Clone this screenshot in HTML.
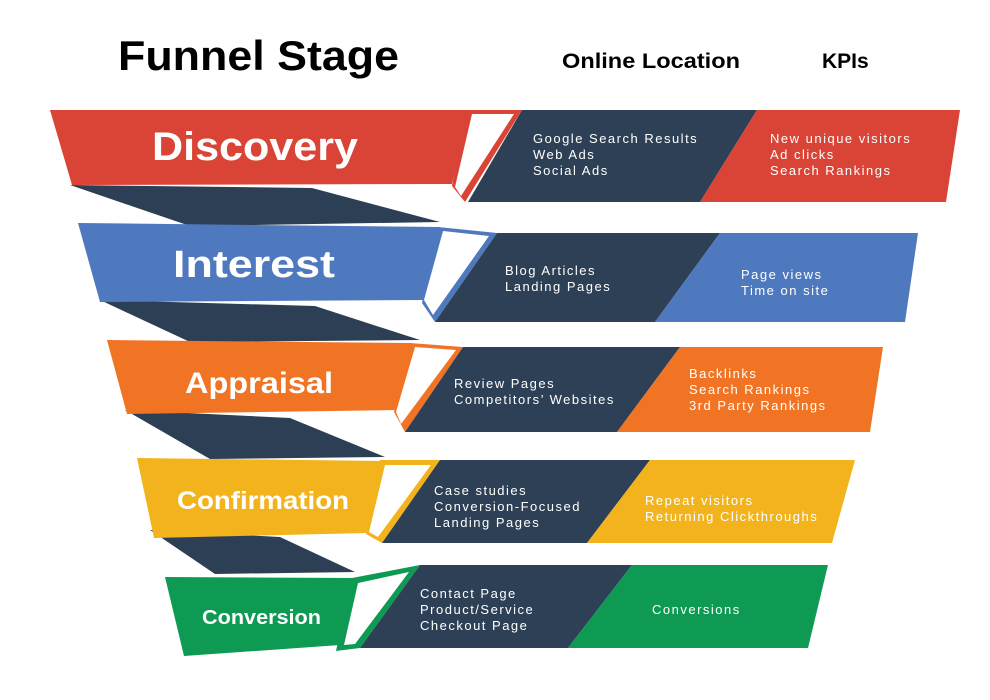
<!DOCTYPE html>
<html><head><meta charset="utf-8"><style>
html,body{margin:0;padding:0;background:#fff;}
svg{display:block;}
text{font-family:"Liberation Sans",sans-serif;}
.h{font-weight:bold;fill:#fff;}
.s{fill:#fff;font-size:13px;letter-spacing:1.5px;}
</style></head><body>
<svg width="990" height="700" viewBox="0 0 990 700" xmlns="http://www.w3.org/2000/svg">
<rect width="990" height="700" fill="#fff"/>
<text x="118" y="70" font-size="42" font-weight="bold" fill="#000" textLength="281" lengthAdjust="spacingAndGlyphs">Funnel Stage</text>
<text x="562" y="68" font-size="21" font-weight="bold" fill="#000" textLength="178" lengthAdjust="spacingAndGlyphs">Online Location</text>
<text x="822" y="68" font-size="21" font-weight="bold" fill="#000">KPIs</text>

<!-- shadows -->
<g fill="#2d3f54">
<polygon points="70,185 312,188 440,222 190,226"/>
<polygon points="100,300 315,306 420,340 190,342"/>
<polygon points="125,410 290,418 385,457 210,459"/>
<polygon points="150,530 280,537 355,572 215,574"/>
</g>

<!-- Band 1 -->
<polygon points="50,110 468,110 452,184 72,185" fill="#d94436"/>
<polygon points="465,110 522,110 465,202 452,186" fill="#d94436"/>
<polygon points="472,114 514,114 461,196 455,187" fill="#fff"/>
<polygon points="522,110 757,110 700,202 468,202" fill="#2d4055"/>
<polygon points="757,110 960,110 946,202 700,202" fill="#d94436"/>
<text class="h" x="152" y="160" font-size="40" textLength="206" lengthAdjust="spacingAndGlyphs">Discovery</text>
<text class="s" x="533" y="143">Google Search Results</text>
<text class="s" x="533" y="159">Web Ads</text>
<text class="s" x="533" y="175">Social Ads</text>
<text class="s" x="770" y="143">New unique visitors</text>
<text class="s" x="770" y="159">Ad clicks</text>
<text class="s" x="770" y="175">Search Rankings</text>

<!-- Band 2 -->
<polygon points="78,223 440,227 424,300 100,302" fill="#4f79be"/>
<polygon points="438,227 497,233 435,322 422,303" fill="#4f79be"/>
<polygon points="443,231 489,236 433,315 424,300" fill="#fff"/>
<polygon points="497,233 720,233 655,322 435,322" fill="#2d4055"/>
<polygon points="720,233 918,233 905,322 655,322" fill="#4f79be"/>
<text class="h" x="173" y="277" font-size="38" textLength="162" lengthAdjust="spacingAndGlyphs">Interest</text>
<text class="s" x="505" y="275">Blog Articles</text>
<text class="s" x="505" y="291">Landing Pages</text>
<text class="s" x="741" y="279">Page views</text>
<text class="s" x="741" y="295">Time on site</text>

<!-- Band 3 -->
<polygon points="107,340 412,343 396,410 127,414" fill="#f07423"/>
<polygon points="410,343 463,347 405,432 394,412" fill="#f07423"/>
<polygon points="415,347 456,350 401,424 396,412" fill="#fff"/>
<polygon points="463,347 680,347 617,432 405,432" fill="#2d4055"/>
<polygon points="680,347 883,347 870,432 617,432" fill="#f07423"/>
<text class="h" x="185" y="393" font-size="30" textLength="148" lengthAdjust="spacingAndGlyphs">Appraisal</text>
<text class="s" x="454" y="388">Review Pages</text>
<text class="s" x="454" y="404">Competitors’ Websites</text>
<text class="s" x="689" y="378">Backlinks</text>
<text class="s" x="689" y="394">Search Rankings</text>
<text class="s" x="689" y="410">3rd Party Rankings</text>

<!-- Band 4 -->
<polygon points="137,458 382,461 368,533 154,538" fill="#f2b31c"/>
<polygon points="380,460 440,460 382,543 366,534" fill="#f2b31c"/>
<polygon points="385,465 431,465 378,537 369,532" fill="#fff"/>
<polygon points="440,460 650,460 587,543 382,543" fill="#2d4055"/>
<polygon points="650,460 855,460 832,543 587,543" fill="#f2b31c"/>
<text class="h" x="177" y="509" font-size="25" textLength="172" lengthAdjust="spacingAndGlyphs">Confirmation</text>
<text class="s" x="434" y="495">Case studies</text>
<text class="s" x="434" y="511">Conversion-Focused</text>
<text class="s" x="434" y="527">Landing Pages</text>
<text class="s" x="645" y="505">Repeat visitors</text>
<text class="s" x="645" y="521">Returning Clickthroughs</text>

<!-- Band 5 -->
<polygon points="165,577 355,578 340,645 184,656" fill="#0e9a53"/>
<polygon points="352,578 420,565 360,648 336,651" fill="#0e9a53"/>
<polygon points="358,583 409,572 355,644 344,645" fill="#fff"/>
<polygon points="420,565 632,565 568,648 360,648" fill="#2d4055"/>
<polygon points="632,565 828,565 808,648 568,648" fill="#0e9a53"/>
<text class="h" x="202" y="624" font-size="20" textLength="119" lengthAdjust="spacingAndGlyphs">Conversion</text>
<text class="s" x="420" y="598">Contact Page</text>
<text class="s" x="420" y="614">Product/Service</text>
<text class="s" x="420" y="630">Checkout Page</text>
<text class="s" x="652" y="614">Conversions</text>
</svg>
</body></html>
